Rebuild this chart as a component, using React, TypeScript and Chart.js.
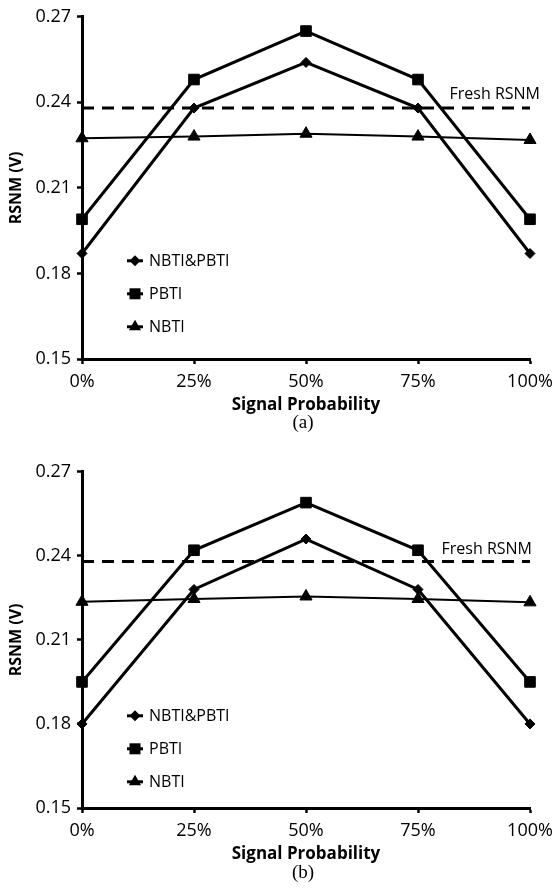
import React, { useEffect, useRef } from "react";
import { Chart, registerables } from "chart.js";

Chart.register(...registerables);

// ---------- data ----------
const categories = ["0%", "25%", "50%", "75%", "100%"];
const yTicks = [0.15, 0.18, 0.21, 0.24, 0.27];
const seriesNames = ["NBTI&PBTI", "PBTI", "NBTI"];
const freshLabel = "Fresh RSNM";
const xTitle = "Signal Probability";
const yTitle = "RSNM (V)";

const aNbtiPbti = [0.187, 0.238, 0.254, 0.238, 0.187];
const aPbti = [0.199, 0.248, 0.265, 0.248, 0.199];
const aNbti = [0.2274, 0.228, 0.229, 0.228, 0.2268];
const aFresh = [0.238, 0.238, 0.238, 0.238, 0.238];

const bNbtiPbti = [0.18, 0.228, 0.246, 0.228, 0.18];
const bPbti = [0.195, 0.242, 0.259, 0.242, 0.195];
const bNbti = [0.2236, 0.2246, 0.2255, 0.2246, 0.2234];
const bFresh = [0.238, 0.238, 0.238, 0.238, 0.238];

const FONT = "'Open Sans', 'DejaVu Sans', sans-serif";

function drawMarker(ctx: CanvasRenderingContext2D, style: string, x: number, y: number) {
  ctx.beginPath();
  if (style === "rectRot") {
    const r = 5.5;
    ctx.moveTo(x - r, y);
    ctx.lineTo(x, y - r);
    ctx.lineTo(x + r, y);
    ctx.lineTo(x, y + r);
  } else if (style === "rect") {
    const s = 5.5;
    ctx.rect(x - s, y - s, 2 * s, 2 * s);
  } else {
    const r = 7;
    ctx.moveTo(x, y - r);
    ctx.lineTo(x + r * Math.sin((2 * Math.PI) / 3), y + r * 0.5);
    ctx.lineTo(x - r * Math.sin((2 * Math.PI) / 3), y + r * 0.5);
  }
  ctx.closePath();
  ctx.fill();
}

const overlayPlugin = {
  id: "overlay",
  afterDatasetsDraw(chart: any, _args: any, opts: any) {
    const { ctx, chartArea } = chart;
    ctx.save();
    ctx.fillStyle = "#000";
    ctx.strokeStyle = "#000";
    const styles = ["rectRot", "rect", "triangle"];
    const rows = [244, 277, 310];
    ctx.font = `16px ${FONT}`;
    ctx.textBaseline = "middle";
    ctx.textAlign = "left";
    seriesNames.forEach((name, i) => {
      const y = chartArea.top + rows[i];
      const x0 = chartArea.left + 45;
      ctx.lineWidth = 3;
      ctx.beginPath();
      ctx.moveTo(x0, y);
      ctx.lineTo(x0 + 16, y);
      ctx.stroke();
      drawMarker(ctx, styles[i], x0 + 8, y);
      ctx.fillText(name, chartArea.left + 67, y + 1);
    });
    // Fresh RSNM label
    const yFresh = chart.scales.y.getPixelForValue(opts.freshValue);
    ctx.textAlign = "right";
    ctx.fillText(freshLabel, chartArea.right + opts.freshDx, yFresh + opts.freshDy);
    ctx.restore();
  },
};

type PanelProps = {
  top: number;
  height: number;
  nbtiPbti: number[];
  pbti: number[];
  nbti: number[];
  fresh: number[];
  freshDx: number;
  freshDy: number;
};

function Panel(p: PanelProps) {
  const ref = useRef<HTMLCanvasElement | null>(null);
  useEffect(() => {
    if (!ref.current) return;
    const axisGrid = {
      display: true,
      drawOnChartArea: false,
      drawTicks: true,
      tickLength: 5,
      tickWidth: 2.5,
      tickColor: "#000",
    };
    const axisBorder = { display: true, color: "#000", width: 3 };
    const line = (label: string, data: number[], style: string, radius: number, bw: number) => ({
      label,
      data,
      borderColor: "#000",
      backgroundColor: "#000",
      borderWidth: bw,
      pointStyle: style,
      pointRadius: radius,
      pointBackgroundColor: "#000",
      pointBorderColor: "#000",
      pointBorderWidth: 1,
      tension: 0,
      clip: false as any,
    });
    const chart = new Chart(ref.current, {
      type: "line",
      data: {
        labels: categories,
        datasets: [
          line(seriesNames[0], p.nbtiPbti, "rectRot", 5, 3),
          line(seriesNames[1], p.pbti, "rect", 7.5, 3),
          line(seriesNames[2], p.nbti, "triangle", 7, 2),
          {
            label: freshLabel,
            data: p.fresh,
            borderColor: "#000",
            borderWidth: 3,
            borderDash: [12, 8],
            pointRadius: 0,
            tension: 0,
            clip: false as any,
          },
        ],
      },
      options: {
        responsive: false,
        animation: false,
        devicePixelRatio: 1,
        layout: { padding: { top: 15, left: 0, right: 0, bottom: 0 } },
        plugins: {
          legend: { display: false },
          tooltip: { enabled: false },
          // @ts-ignore
          overlay: { freshValue: p.fresh[p.fresh.length - 1], freshDx: p.freshDx, freshDy: p.freshDy },
        },
        scales: {
          x: {
            type: "category",
            offset: false,
            grid: axisGrid,
            border: axisBorder,
            ticks: {
              color: "#000",
              font: { family: FONT, size: 18 },
              padding: 7,
              maxRotation: 0,
              autoSkip: false,
            },
            title: {
              display: true,
              text: xTitle,
              color: "#000",
              font: { family: FONT, size: 17, weight: "bold" },
              padding: { top: 0, bottom: 0 },
            },
            afterFit: (s: any) => {
              s.height = 56;
              s.paddingLeft = 0;
              s.paddingRight = 23;
            },
          },
          y: {
            type: "linear",
            min: 0.15,
            max: 0.27,
            afterBuildTicks: (s: any) => {
              s.ticks = yTicks.map((v) => ({ value: v }));
            },
            grid: axisGrid,
            border: axisBorder,
            ticks: {
              color: "#000",
              font: { family: FONT, size: 18 },
              padding: 6,
              callback: (v: any) => Number(v).toFixed(2),
            },
            title: {
              display: true,
              text: yTitle,
              color: "#000",
              font: { family: FONT, size: 16, weight: "bold" },
              padding: { top: 7, bottom: 0 },
            },
            afterFit: (s: any) => {
              s.width = 82;
            },
          },
        },
      } as any,
      plugins: [overlayPlugin],
    });
    return () => chart.destroy();
  }, []);
  return (
    <canvas
      ref={ref}
      width={553}
      height={p.height}
      style={{ position: "absolute", left: 0, top: p.top, width: 553, height: p.height }}
    />
  );
}

const captionStyle = (top: number): React.CSSProperties => ({
  position: "absolute",
  left: 273,
  width: 60,
  top,
  textAlign: "center",
  fontFamily: "'Liberation Serif', 'DejaVu Serif', serif",
  fontSize: 19,
  lineHeight: "20px",
  color: "#000",
});

export default function App() {
  return (
    <div style={{ position: "absolute", left: 0, top: 0, width: 553, height: 890, background: "#fff" }}>
      <Panel top={0} height={415} nbtiPbti={aNbtiPbti} pbti={aPbti} nbti={aNbti} fresh={aFresh} freshDx={10} freshDy={-14} />
      <Panel top={455} height={409} nbtiPbti={bNbtiPbti} pbti={bPbti} nbti={bNbti} fresh={bFresh} freshDx={2} freshDy={-12} />
      <div style={captionStyle(412)}>(a)</div>
      <div style={captionStyle(862)}>(b)</div>
    </div>
  );
}
